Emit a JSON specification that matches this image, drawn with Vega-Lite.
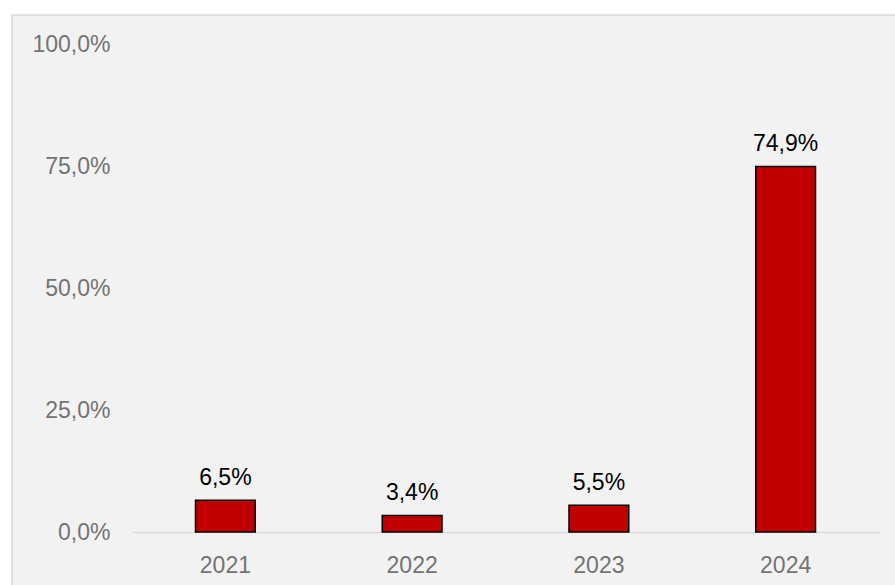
{
  "$schema": "https://vega.github.io/schema/vega-lite/v6.json",
  "width": 886,
  "height": 573,
  "padding": {"left": 12, "top": 15, "right": 0, "bottom": 0},
  "autosize": {"type": "none"},
  "background": "white",
  "config": {
    "locale": {"number": {"decimal": ",", "thousands": ".", "grouping": [3], "currency": ["", " €"]}},
    "view": {"fill": "#F2F2F2", "stroke": "#D9D9D9", "strokeWidth": 1.5},
    "font": "Liberation Sans"
  },
  "data": {"values": [
    {"year": "2021", "share": 0.065},
    {"year": "2022", "share": 0.034},
    {"year": "2023", "share": 0.055},
    {"year": "2024", "share": 0.749}
  ]},
  "encoding": {
    "x": {
      "field": "year", "type": "nominal", "sort": null,
      "scale": {"range": [120, 867], "paddingInner": 0.68, "paddingOuter": 0.34},
      "axis": {"title": null, "labelAngle": 0, "offset": -56, "ticks": false, "domainColor": "#D9D9D9", "domainWidth": 1.5,
               "labelFontSize": 23, "labelColor": "#737373", "labelPadding": 22, "labelFont": "Liberation Sans"}
    },
    "y": {
      "field": "share", "type": "quantitative",
      "scale": {"domain": [0, 1], "range": [517, 29], "nice": false},
      "axis": {"title": null, "values": [0, 0.25, 0.5, 0.75, 1], "format": ".1%", "grid": false, "domain": false, "ticks": false,
               "offset": -98, "labelPadding": 0, "labelFontSize": 23, "labelColor": "#737373", "labelFont": "Liberation Sans"}
    }
  },
  "layer": [
    {"mark": {"type": "bar", "color": "#C00000", "stroke": "#000000", "strokeWidth": 1.5}},
    {"mark": {"type": "text", "baseline": "alphabetic", "dy": -15, "fontSize": 23, "color": "#000000", "font": "Liberation Sans"},
     "encoding": {"text": {"field": "share", "type": "quantitative", "format": ".1%"}}}
  ]
}
